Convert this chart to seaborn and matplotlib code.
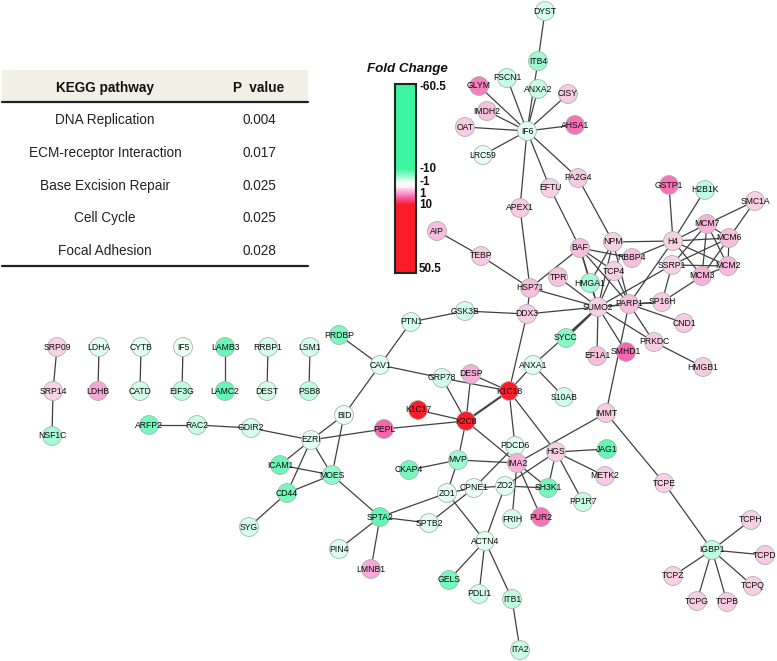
import numpy as np
import pandas as pd
import seaborn as sns
import matplotlib.pyplot as plt
from matplotlib.colors import LinearSegmentedColormap, Normalize
from matplotlib.patches import Rectangle

sns.set_theme(style="white")
plt.rcParams['font.family'] = ['Liberation Sans', 'DejaVu Sans']

# table
pathways = ['DNA Replication', 'ECM-receptor Interaction', 'Base Excision Repair', 'Cell Cycle', 'Focal Adhesion']
p_values = ['0.004', '0.017', '0.025', '0.025', '0.028']

# legend
bar_labels = ['-60.5', '-10', '-1', '1', '10', '50.5']
bar_values = [-60.5, -10, -1, 1, 10, 50.5]

# network nodes, layout
names = ['DYST', 'ITB4', 'FSCN1', 'GLYM', 'ANXA2', 'CISY', 'IMDH2', 'OAT', 'AHSA1', 'IF6', 'LRC59', 'PA2G4',
         'EFTU', 'GSTP1', 'H2B1K', 'SMC1A', 'APEX1', 'MCM7', 'MCM6', 'H4', 'NPM', 'BAF', 'AIP', 'TEBP',
         'RBBP4', 'MCM2', 'SSRP1', 'MCM3', 'TCP4', 'TPR', 'HMGA1', 'HSP71', 'SP16H', 'PARP1', 'SUMO2', 'DDX3',
         'GSK3B', 'PTN1', 'CND1', 'SYCC', 'PRKDC', 'SMHD1', 'EF1A1', 'ANXA1', 'HMGB1', 'S10AB', 'GRP78', 'DESP',
         'K1C18', 'K1C17', 'K2C8', 'IMMT', 'SRP09', 'LDHA', 'CYTB', 'IF5', 'LAMB3', 'RRBP1', 'LSM1', 'PRDBP',
         'CAV1', 'BID', 'SRP14', 'LDHB', 'CATD', 'EIF3G', 'LAMC2', 'DEST', 'PSB8', 'NSF1C', 'ARFP2', 'RAC2',
         'GDIR2', 'EZRI', 'PEPL', 'ICAM1', 'MOES', 'CD44', 'SPTA2', 'SYG', 'CKAP4', 'PDCD6', 'IMA2', 'HGS',
         'MVP', 'ZO1', 'CPNE1', 'ZO2', 'SH3K1', 'PP1R7', 'FRIH', 'PUR2', 'SPTB2', 'ACTN4', 'PIN4', 'LMNB1',
         'GELS', 'PDLI1', 'ITB1', 'ITA2', 'JAG1', 'METK2', 'TCPE', 'TCPH', 'IGBP1', 'TCPD', 'TCPZ', 'TCPQ',
         'TCPG', 'TCPB']
node_x = [545, 538, 507, 479, 538, 568, 487, 465, 575, 527, 483, 578,
          550, 669, 705, 755, 520, 707, 729, 673, 613, 580, 437, 481,
          632, 728, 672, 702, 614, 558, 590, 530, 662, 629, 598, 527,
          465, 411, 684, 566, 654, 626, 597, 533, 703, 564, 442, 471,
          509, 418, 466, 606, 57, 99, 141, 183, 225, 268, 310, 339,
          380, 344, 53, 98, 140, 182, 225, 267, 309, 52, 149, 197,
          251, 311, 384, 280, 332, 287, 380, 249, 409, 515, 517, 556,
          458, 447, 474, 505, 548, 583, 512, 541, 429, 485, 339, 371,
          449, 479, 512, 520, 607, 605, 664, 751, 712, 765, 673, 753,
          697, 727]
node_y = [11, 61, 78, 86, 89, 94, 111, 127, 125, 131, 155, 178,
          188, 185, 190, 201, 208, 224, 238, 241, 242, 248, 231, 256,
          258, 266, 265, 276, 271, 277, 283, 288, 302, 304, 307, 314,
          311, 322, 323, 338, 342, 352, 356, 365, 367, 397, 378, 374,
          391, 410, 421, 413, 347, 347, 347, 347, 347, 347, 347, 335,
          365, 415, 391, 391, 391, 391, 391, 391, 391, 436, 425, 425,
          428, 440, 429, 465, 475, 493, 517, 527, 470, 446, 463, 452,
          460, 493, 488, 486, 488, 502, 519, 517, 523, 541, 549, 569,
          580, 594, 599, 650, 449, 476, 483, 520, 550, 555, 576, 586,
          601, 602]
fold_change = [-2.5, -5, -3, 5, -3, 2, 2.5, 2, 5.5, -2, -1.7, 2,
               1.8, 5.5, -3.5, 1.8, 2, 3, 2.5, 1.8, 1.7, 2.5, 2.5, 2,
               2.5, 2.7, 1.7, 3, 1.8, 2.3, -4.5, 2.5, 2, 2.5, 1.7, 1.9,
               -2.5, -2.5, 2, -6, 2, 6, 2.5, -2, 2, -2.8, -2.5, 3.2,
               12, 14, 14, 2, 1.7, -2, -2, -1.6, -7.5, -2.5, -2.5, -6.5,
               -2, -1.5, 1.6, 3.5, -2.5, -3.5, -8, -2.5, -3.5, -4.5, -7, -3,
               -2.5, -1.9, 6, -7.5, -5.5, -7, -8, -2.5, -7, -2, 3, 1.7,
               -5, -2, -1.6, -2, -7, -3, -2.5, 5.5, -2, -2, -2.3, 3.5,
               -7, -2.5, -3.5, -3, -8, 2, 1.8, 1.8, -3.5, 2, 1.8, 1.8,
               1.9, 2]

edge_list = [
    ('DYST', 'ITB4'), ('IF6', 'ITB4'), ('IF6', 'ANXA2'), ('IF6', 'FSCN1'), ('IF6', 'GLYM'), ('IF6', 'IMDH2'),
    ('IF6', 'OAT'), ('IF6', 'LRC59'), ('IF6', 'CISY'), ('IF6', 'AHSA1'), ('IF6', 'PA2G4'), ('IF6', 'EFTU'),
    ('IF6', 'APEX1'), ('PA2G4', 'NPM'), ('EFTU', 'BAF'), ('APEX1', 'HSP71'), ('AIP', 'TEBP'), ('TEBP', 'HSP71'),
    ('GSTP1', 'H4'), ('H2B1K', 'H4'), ('SMC1A', 'MCM7'), ('SMC1A', 'MCM6'), ('H4', 'NPM'), ('H4', 'MCM7'),
    ('H4', 'MCM6'), ('H4', 'MCM2'), ('H4', 'MCM3'), ('H4', 'RBBP4'), ('H4', 'PARP1'), ('MCM7', 'MCM6'),
    ('MCM7', 'MCM2'), ('MCM7', 'MCM3'), ('MCM7', 'SSRP1'), ('MCM6', 'MCM2'), ('MCM6', 'MCM3'), ('MCM6', 'SSRP1'),
    ('MCM2', 'MCM3'), ('MCM2', 'SSRP1'), ('MCM3', 'SP16H'), ('SSRP1', 'SP16H'), ('SSRP1', 'SUMO2'),
    ('SP16H', 'PARP1'), ('SP16H', 'SUMO2'), ('BAF', 'RBBP4'), ('BAF', 'TCP4'), ('BAF', 'HMGA1'), ('BAF', 'PARP1'),
    ('BAF', 'SUMO2'), ('BAF', 'HSP71'), ('NPM', 'HMGA1'), ('NPM', 'SUMO2'), ('NPM', 'PARP1'), ('TCP4', 'SUMO2'),
    ('TCP4', 'PARP1'), ('TPR', 'SUMO2'), ('HMGA1', 'SUMO2'), ('HSP71', 'SUMO2'), ('HSP71', 'DDX3'),
    ('DDX3', 'SUMO2'), ('GSK3B', 'DDX3'), ('PTN1', 'GSK3B'), ('PTN1', 'CAV1'), ('CAV1', 'PRDBP'), ('CAV1', 'BID'),
    ('CAV1', 'GRP78'), ('DDX3', 'K1C18'), ('SUMO2', 'ANXA1'), ('SUMO2', 'EF1A1'), ('SUMO2', 'SMHD1'),
    ('SUMO2', 'PRKDC'), ('SUMO2', 'PARP1'), ('PARP1', 'CND1'), ('PARP1', 'PRKDC'), ('PARP1', 'IMMT'),
    ('PRKDC', 'HMGB1'), ('ANXA1', 'S10AB'), ('ANXA1', 'K1C18'), ('DESP', 'K1C18'), ('DESP', 'K2C8'),
    ('GRP78', 'K1C18'), ('GRP78', 'K2C8'), ('K1C17', 'K2C8'), ('K1C18', 'PDCD6'), ('K1C18', 'HGS'), ('K2C8', 'MVP'),
    ('K2C8', 'IMA2'), ('K2C8', 'PEPL'), ('PEPL', 'EZRI'), ('IMMT', 'TCPE'), ('IMMT', 'IMA2'), ('HGS', 'ZO2'),
    ('HGS', 'JAG1'), ('HGS', 'METK2'), ('HGS', 'PP1R7'), ('HGS', 'SH3K1'), ('PDCD6', 'IMA2'), ('PDCD6', 'CPNE1'),
    ('IMA2', 'SH3K1'), ('IMA2', 'PUR2'), ('IMA2', 'FRIH'), ('IMA2', 'MVP'), ('ZO2', 'SH3K1'), ('ZO2', 'CPNE1'),
    ('ZO2', 'ACTN4'), ('ZO1', 'CPNE1'), ('ZO1', 'MVP'), ('ZO1', 'SPTA2'), ('ZO1', 'ACTN4'), ('CPNE1', 'SPTB2'),
    ('SPTA2', 'SPTB2'), ('MVP', 'CKAP4'), ('SPTA2', 'MOES'), ('SPTA2', 'PIN4'), ('SPTA2', 'LMNB1'),
    ('ACTN4', 'GELS'), ('ACTN4', 'PDLI1'), ('ACTN4', 'ITB1'), ('ITB1', 'ITA2'), ('BID', 'EZRI'), ('BID', 'MOES'),
    ('EZRI', 'GDIR2'), ('GDIR2', 'RAC2'), ('RAC2', 'ARFP2'), ('EZRI', 'ICAM1'), ('EZRI', 'CD44'), ('EZRI', 'MOES'),
    ('ICAM1', 'MOES'), ('CD44', 'MOES'), ('CD44', 'SYG'), ('TCPE', 'IGBP1'), ('IGBP1', 'TCPH'), ('IGBP1', 'TCPD'),
    ('IGBP1', 'TCPZ'), ('IGBP1', 'TCPQ'), ('IGBP1', 'TCPG'), ('IGBP1', 'TCPB'), ('SRP09', 'SRP14'),
    ('SRP14', 'NSF1C'), ('LDHA', 'LDHB'), ('CYTB', 'CATD'), ('IF5', 'EIF3G'), ('LAMB3', 'LAMC2'), ('RRBP1', 'DEST'),
    ('LSM1', 'PSB8'),
]
double_edges = [('SUMO2', 'SYCC'), ('K2C8', 'K1C18')]

nodes = pd.DataFrame({'name': names, 'x': node_x, 'y': node_y, 'fold': fold_change})
pos = nodes.set_index('name')


def edge_table(pairs):
    rows = []
    for i, (a, b) in enumerate(pairs):
        rows.append({'edge': i, 'x': pos.loc[a, 'x'], 'y': pos.loc[a, 'y']})
        rows.append({'edge': i, 'x': pos.loc[b, 'x'], 'y': pos.loc[b, 'y']})
    return pd.DataFrame(rows)


# fold change colours, green through white to red
lo, hi = -60.5, 50.5
stops = [(-60.5, '#3df5a0'), (-10, '#3df5a0'), (-5.5, '#8ff9cc'), (-1, '#f8fffc'), (1, '#fff0f6'),
         (1.6, '#f9d4e6'), (3.5, '#f7a6d6'), (6, '#f765ae'), (10, '#fc1c2a'), (50.5, '#fc1c2a')]
fc_cmap = LinearSegmentedColormap.from_list('fold', [((v - lo) / (hi - lo), c) for v, c in stops], N=4096)
fc_norm = Normalize(lo, hi)

fig = plt.figure(figsize=(7.77, 6.61), dpi=100)
ax = fig.add_axes([0, 0, 1, 1])

sns.lineplot(data=edge_table(edge_list), x='x', y='y', units='edge', estimator=None, sort=False,
             color='#404040', lw=0.9, ax=ax, zorder=1)
sns.lineplot(data=edge_table(double_edges), x='x', y='y', units='edge', estimator=None, sort=False,
             color='#404040', lw=1.5, ax=ax, zorder=1)
sns.scatterplot(data=nodes, x='x', y='y', hue='fold', palette=fc_cmap, hue_norm=fc_norm, s=185,
                edgecolor='#a8b5ae', linewidth=0.6, legend=False, ax=ax, zorder=2)
for _, row in nodes.iterrows():
    ax.text(row['x'], row['y'], row['name'], ha='center', va='center', fontsize=6.2, color='#0c0c0c', zorder=3)

# table
ax.add_patch(Rectangle((2, 70), 306, 32, fc='#f2efe6', ec='none', zorder=0))
ax.plot([2, 308], [102, 102], color='#222222', lw=1.6)
ax.plot([2, 308], [266, 266], color='#222222', lw=1.6)
ax.text(105, 88, 'KEGG pathway', ha='center', va='center', fontsize=9.8, fontweight='bold', color='#111111')
ax.text(259, 88, 'P  value', ha='center', va='center', fontsize=9.8, fontweight='bold', color='#111111')
table_y = [120, 153, 186, 218, 251]
for y, pw, pv in zip(table_y, pathways, p_values):
    ax.text(105, y, pw, ha='center', va='center', fontsize=9.8, color='#222222')
    ax.text(259, y, pv, ha='center', va='center', fontsize=9.8, color='#222222')

# colour bar, gradient runs through the labelled values
bar_y = [87, 169, 183, 188, 205, 270]
rows = np.arange(84, 273)
grad = np.interp(rows, bar_y, bar_values).reshape(-1, 1)
ax.imshow(grad, cmap=fc_cmap, norm=fc_norm, extent=[395, 415, 272.5, 84], aspect='auto', zorder=1)
ax.add_patch(Rectangle((395, 84), 20.5, 188.5, fc='none', ec='#1a2a22', lw=1.5, zorder=2))
ax.text(407, 69, 'Fold Change', ha='center', va='center', fontsize=9.6, fontweight='bold', style='italic', color='#111111')
label_y = [87, 169, 182, 194, 205, 269]
for y, t in zip(label_y, bar_labels):
    ax.text(419, y, t, ha='left', va='center', fontsize=8.4, fontweight='bold', color='#111111')

ax.set_xlim(0, 777)
ax.set_ylim(661, 0)
ax.axis('off')
fig.savefig('out.png', dpi=100)
